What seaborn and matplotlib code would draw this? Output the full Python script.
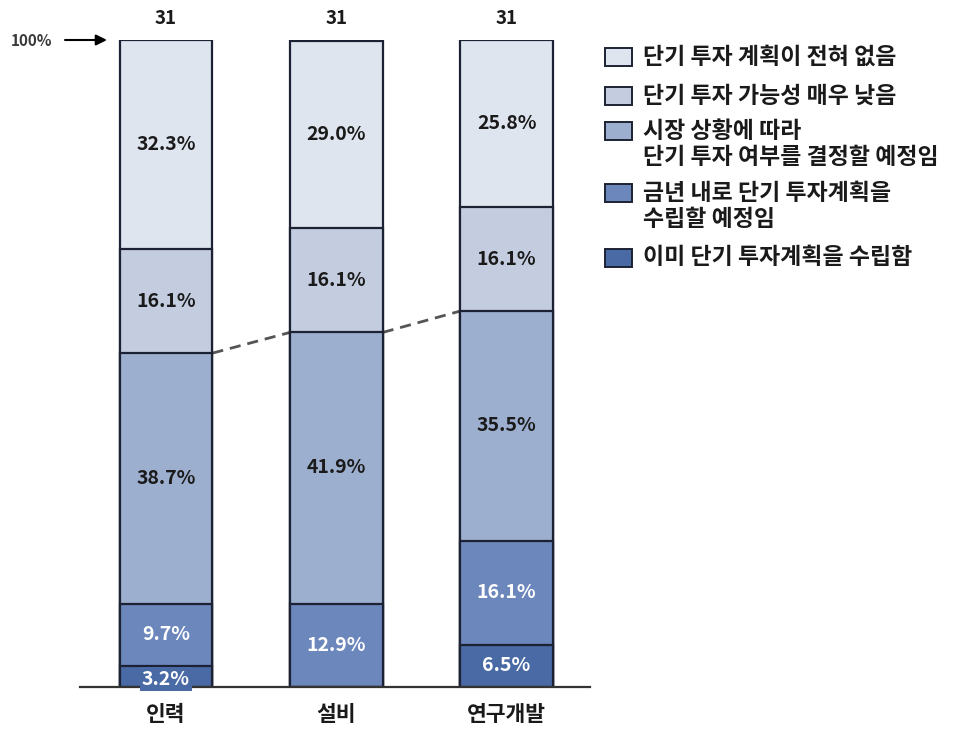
import numpy as np
import pandas as pd
import matplotlib
matplotlib.use("Agg")
import matplotlib.pyplot as plt
from matplotlib.patches import Rectangle
import seaborn as sns

# Survey: short-term investment plans by area (n = 31 each)
categories = ["인력", "설비", "연구개발"]
counts = [31, 31, 31]
# segments listed bottom -> top
series_names = [
    "이미 단기 투자계획을 수립함",
    "금년 내로 단기 투자계획을\n수립할 예정임",
    "시장 상황에 따라\n단기 투자 여부를 결정할 예정임",
    "단기 투자 가능성 매우 낮음",
    "단기 투자 계획이 전혀 없음",
]
already_planned = [3.2, 0.0, 6.5]
plan_this_year = [9.7, 12.9, 16.1]
depends_on_market = [38.7, 41.9, 35.5]
very_unlikely = [16.1, 16.1, 16.1]
no_plan = [32.3, 29.0, 25.8]

colors = ["#4a6aa5", "#6c87bc", "#9dafcf", "#c4cde0", "#dfe5ef"]
text_colors = ["white", "white", "#1a1a1a", "#1a1a1a", "#1a1a1a"]

sns.set_style("white")
plt.rcParams["font.family"] = ["Noto Sans CJK KR", "DejaVu Sans"]

layers = [already_planned, plan_this_year, depends_on_market, very_unlikely, no_plan]
values = np.array(layers)
cum = np.cumsum(values, axis=0)

fig = plt.figure(figsize=(9.56, 7.30), dpi=100)
W, H = 956, 730
ax = fig.add_axes([80 / W, 43 / H, (590 - 80) / W, (687 - 40) / H])

edge = "#1c2233"
# draw cumulative totals from the top layer down so the segments stack
for i in range(len(layers) - 1, -1, -1):
    df = pd.DataFrame({"cat": categories, "val": cum[i]})
    sns.barplot(data=df, x="cat", y="val", order=categories, color=colors[i],
                saturation=1, width=0.545, edgecolor=edge, linewidth=1.6,
                errorbar=None, ax=ax, zorder=2 + (len(layers) - i))

ax.set_xlim(-0.505, 2.49)
ax.set_ylim(0, 100)
ax.set_xlabel("")
ax.set_ylabel("")
ax.set_yticks([])
ax.tick_params(axis="x", length=0, pad=12)
ax.set_xticks(range(len(categories)))
ax.set_xticklabels(categories, fontsize=15.5, fontweight="bold", color="#1a1a1a")
for s in ["top", "right", "left"]:
    ax.spines[s].set_visible(False)
ax.spines["bottom"].set_color("#333333")
ax.spines["bottom"].set_linewidth(1.6)
ax.spines["bottom"].set_zorder(20)

# segment value labels
for j in range(len(categories)):
    for i in range(len(layers)):
        v = values[i, j]
        if v <= 0:
            continue
        lo = cum[i, j] - v
        y = lo + v / 2
        kw = {}
        if v < 5:
            y = 1.2
            kw["bbox"] = dict(boxstyle="square,pad=0.12", fc=colors[i], ec="none")
        ax.text(j, y, f"{v:.1f}%", ha="center", va="center", fontsize=14,
                fontweight="bold", color=text_colors[i], zorder=30, **kw)
    ax.text(j, 101.8, str(counts[j]), ha="center", va="bottom", fontsize=13.5,
            fontweight="bold", color="#1a1a1a", clip_on=False)

# dashed connector across the top of the "depends on market" segment
hw = 0.545 / 2
top3 = cum[2]
for j in range(len(categories) - 1):
    ax.plot([j + hw, j + 1 - hw], [top3[j], top3[j + 1]], ls=(0, (4, 2.5)),
            color="#555555", lw=2, zorder=1, clip_on=False)

# 100% marker
fig.text(11 / W, 1 - 41 / H, "100%", ha="left", va="center", fontsize=11,
         fontweight="bold", color="#3a3a3a")
ax.annotate("", xy=(-0.505 + 27 / 170.5, 100), xytext=(-0.505 - 15 / 170.5, 100),
            arrowprops=dict(arrowstyle="-|>", color="black", lw=1.5,
                            mutation_scale=16, shrinkA=0, shrinkB=0),
            annotation_clip=False)

# legend, drawn top -> bottom with boxes aligned to the first text line
leg_rows = [[57], [96], [131, 157], [193, 219], [258]]
for k, idx in enumerate(range(len(layers) - 1, -1, -1)):
    ys = leg_rows[k]
    fig.patches.append(Rectangle((605 / W, 1 - (ys[0] + 9) / H), 27 / W, 18 / H,
                                 transform=fig.transFigure, fc=colors[idx],
                                 ec=edge, lw=1.4))
    for line, yc in zip(series_names[idx].split("\n"), ys):
        fig.text(643 / W, 1 - yc / H, line, ha="left", va="center",
                 fontsize=16.5, fontweight="bold", color="#1a1a1a")

fig.savefig("out.png", dpi=100, facecolor="white")
